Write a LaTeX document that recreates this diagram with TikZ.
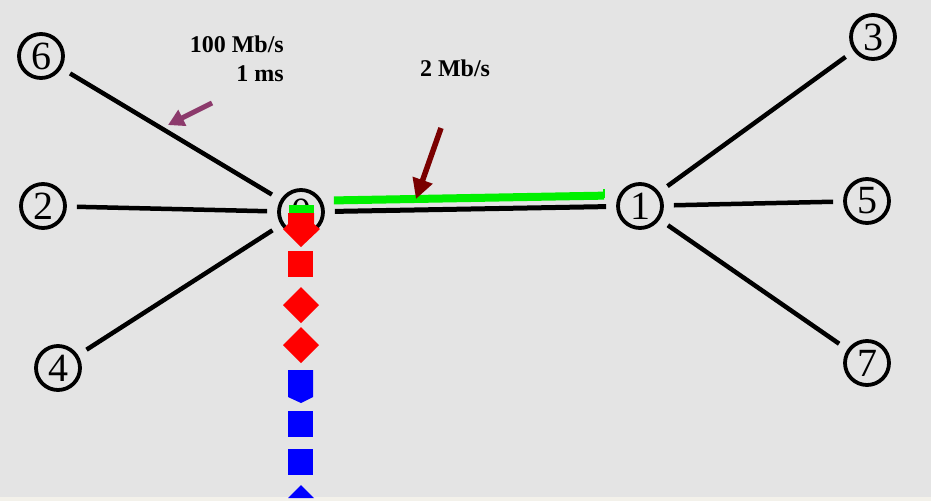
\documentclass[tikz,border=0pt]{standalone}
\usepackage{fontspec}
\setmainfont{Liberation Serif}
\usetikzlibrary{arrows.meta,calc}
\definecolor{bggray}{HTML}{E4E4E4}
\definecolor{bgedge}{HTML}{F3F1EA}
\definecolor{linkgreen}{HTML}{00F000}
\definecolor{pktred}{HTML}{FF0000}
\definecolor{pktblue}{HTML}{0000FF}
\definecolor{plum}{HTML}{8C3A6C}
\definecolor{maroon}{HTML}{7A0000}
\tikzset{
  netnode/.style={circle, draw=black, line width=3.8pt, minimum size=44pt, inner sep=0pt,
    font=\fontsize{40}{40}\selectfont},
  link/.style={draw=black, line width=4.5pt, shorten <=10pt, shorten >=10pt},
  lbl/.style={font=\fontsize{24}{29}\selectfont\bfseries, inner sep=0pt},
  pointer/.style={line width=5pt, -{Triangle[length=16pt,width=17pt]}},
}
\begin{document}
\begin{tikzpicture}[x=1pt,y=-1pt]
\useasboundingbox (0,0) rectangle (931,501);
\fill[bggray] (0,0) rectangle (931,501);
\fill[bgedge] (0,497) rectangle (931,501);

% nodes
\node[netnode] (n6) at (41,56) {6};
\node[netnode] (n2) at (43,206) {2};
\node[netnode] (n4) at (58,368) {4};
\node[netnode] (n0) at (301,212) {0};
\node[netnode] (n1) at (640,206) {1};
\node[netnode] (n3) at (873,37) {3};
\node[netnode] (n5) at (867,201) {5};
\node[netnode] (n7) at (867,363) {7};

% access links
\draw[link] (n6) -- (n0);
\draw[link] (n2) -- (n0);
\draw[link] (n4) -- (n0);
\draw[link] (n1) -- (n3);
\draw[link] (n1) -- (n5);
\draw[link] (n1) -- (n7);

% bottleneck link with the packet flow drawn above it
\draw[link, line width=5pt] (n0) -- (n1);
\draw[draw=linkgreen, line width=8pt, shorten <=9pt, shorten >=12pt,
      transform canvas={yshift=11pt}] (n0) -- (n1);
\draw[draw=linkgreen, line width=1.2pt] (604,189) -- (604,198);

% queue at node 0
\fill[linkgreen] (289,205) rectangle (314,213);
\fill[pktred] (288,213) -- (314,213) -- (314,224) -- (320,229) -- (301,247)
  -- (283,229) -- (288,224) -- cycle;
\fill[pktred] (288,251) rectangle (313,277);
\fill[pktred] (301,287) -- (319,305) -- (301,323) -- (283,305) -- cycle;
\fill[pktred] (301,327) -- (319,345) -- (301,363) -- (283,345) -- cycle;
\fill[pktblue] (288,370) -- (313,370) -- (313,397) -- (301,403) -- (288,397) -- cycle;
\fill[pktblue] (288,411) rectangle (313,437);
\fill[pktblue] (288,449) rectangle (313,475);
\fill[pktblue] (301,485) -- (314,498) -- (288,498) -- cycle;

% labels and pointers
\node[lbl, anchor=north east, align=right] (accesslbl) at (284,36) {100 Mb/s\\1 ms};
\node[lbl, anchor=north] (coremlbl) at (455,60) {2 Mb/s};
\coordinate (pa) at (212,103);
\coordinate (pb) at (168,125);
\draw[pointer, draw=plum, fill=plum] (pa) -- (pb);
\coordinate (qa) at (441,128);
\coordinate (qb) at (416,199);
\draw[pointer, draw=maroon, fill=maroon, line width=5.5pt,
      -{Triangle[length=20pt,width=20pt]}] (qa) -- (qb);
\end{tikzpicture}
\end{document}
